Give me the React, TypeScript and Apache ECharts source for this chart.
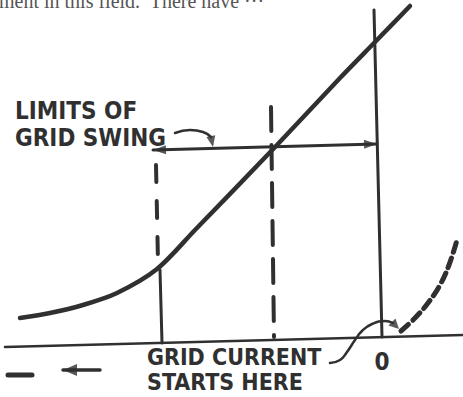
import React, { useEffect, useRef } from "react";
import * as echarts from "echarts";

// Axis ranges: x = grid voltage (0 at the right), y = plate current
const X_RANGE: [number, number] = [-382, 81];
const Y_RANGE: [number, number] = [-60, 337];

// Plate-current characteristic (solid curve)
const plateCurve: [number, number][] = [
  [-362, 19], [-332, 24], [-299, 32], [-265, 44], [-225, 68],
  [-187, 107], [-105, 192], [-42, 259], [-6, 296], [28, 331],
];
// Continuation into the grid-current region (dashed curve)
const gridCurrentCurve: [number, number][] = [
  [19, 6], [33, 19], [46, 34], [58, 52], [67, 72], [75, 97],
];
const zeroAxis: [number, number][] = [[-8, 327], [0, 0]];
const baseline: [number, number][] = [[-377, -10], [81, 2]];
const swingLimitSolid: [number, number][] = [[-222, 67], [-220, -6]];
const swingLimitDashed: [number, number][] = [[-226, 172], [-224, 75]];
const operatingLine: [number, number][] = [[-111, 230], [-108, 0]];
const swingArrow: [number, number][] = [[-229, 187], [-5, 193]];
const swingPointer: [number, number][] = [
  [-207, 204], [-192, 207], [-179, 205], [-171, 200], [-169, 190],
];
const gridCurrentPointer: [number, number][] = [
  [-52, -26], [-42, -23], [-35, -15], [-27, -3], [-20, 6],
  [-10, 13], [3, 16], [11, 14], [17, 8],
];
const negativeDash: [number, number][] = [[-374, -38], [-350, -38]];
const negativeArrow: [number, number][] = [[-282, -33], [-319, -33]];

const labelSwing = ["LIMITS OF", "GRID SWING"];
const labelCurrent = ["GRID CURRENT", "STARTS HERE"];
const labelZero = "0";
const topLine = "ment in this field.  There have \u00b7\u00b7\u00b7";

const INK = "#303030";
const HAND_FONT = '"DejaVu Sans Condensed", "Liberation Sans", sans-serif';

function head(points: [number, number][], len: number) {
  const n = points.length;
  const [x1, y1] = points[n - 2];
  const [x2, y2] = points[n - 1];
  const a = Math.atan2(y2 - y1, x2 - x1);
  return {
    value: [x2 - (Math.cos(a) * len) / 2, y2 - (Math.sin(a) * len) / 2],
    symbolRotate: (a * 180) / Math.PI - 90,
  };
}

function lineSeries(data: [number, number][], width: number, dash?: number[] | string, smooth = 0) {
  return {
    type: "line",
    data,
    smooth,
    showSymbol: false,
    symbol: "none",
    silent: true,
    lineStyle: { color: INK, width, type: dash || "solid", cap: "round" },
    z: 2,
  };
}

export default function App() {
  const ref = useRef<HTMLDivElement>(null);
  useEffect(() => {
    document.body.style.margin = "0";
    const chart = echarts.init(ref.current!, undefined, { renderer: "svg" });
    const heads = [
      head(swingArrow, 13),
      head([swingArrow[1], swingArrow[0]], 13),
      head(swingPointer, 11),
      head(gridCurrentPointer, 10),
      head(negativeArrow, 14),
    ];
    chart.setOption({
      animation: false,
      backgroundColor: "#ffffff",
      grid: { left: 0, right: 0, top: 0, bottom: 0 },
      xAxis: { type: "value", min: X_RANGE[0], max: X_RANGE[1], show: false },
      yAxis: { type: "value", min: Y_RANGE[0], max: Y_RANGE[1], show: false },
      series: [
        lineSeries(baseline, 2.5),
        lineSeries(zeroAxis, 3),
        lineSeries(swingLimitSolid, 3),
        lineSeries(swingLimitDashed, 4, [17, 19]),
        lineSeries(operatingLine, 4, [24, 14]),
        lineSeries(swingArrow, 3),
        lineSeries(swingPointer.slice(0, -1), 2.5, undefined, 0.5),
        lineSeries(gridCurrentPointer.slice(0, -1), 2.5, undefined, 0.5),
        lineSeries(negativeDash, 5),
        lineSeries(negativeArrow, 3.5),
        lineSeries(plateCurve, 4.5, undefined, 0.3),
        lineSeries(gridCurrentCurve, 5, [10, 6], 0.4),
        {
          type: "scatter",
          silent: true,
          symbol: "triangle",
          data: heads.map((h, i) => ({
            value: h.value,
            symbolRotate: h.symbolRotate,
            symbolSize: i === 4 ? [12, 14] : i === 3 ? [10, 10] : i === 2 ? [9, 11] : [9, 13],
          })),
          itemStyle: { color: INK },
          z: 3,
        },
      ],
      graphic: [
        {
          type: "text",
          x: -1,
          y: 1,
          style: {
            text: topLine,
            font: '20px "Liberation Serif", "DejaVu Serif", serif',
            fill: "#555555",
            verticalAlign: "middle",
          },
        },
        ...labelSwing.map((t, i) => ({
          type: "text",
          x: 15,
          y: 111 + i * 26.5,
          style: { text: t, font: `bold 24px ${HAND_FONT}`, fill: INK, verticalAlign: "middle" },
        })),
        ...labelCurrent.map((t, i) => ({
          type: "text",
          x: 147,
          y: 357 + i * 25,
          style: { text: t, font: `bold 23px ${HAND_FONT}`, fill: INK, verticalAlign: "middle" },
        })),
        {
          type: "text",
          x: 382,
          y: 362,
          style: {
            text: labelZero,
            font: `bold 24px ${HAND_FONT}`,
            fill: INK,
            align: "center",
            verticalAlign: "middle",
          },
        },
      ],
    });
    return () => chart.dispose();
  }, []);
  return <div ref={ref} style={{ width: 463, height: 397 }} />;
}
